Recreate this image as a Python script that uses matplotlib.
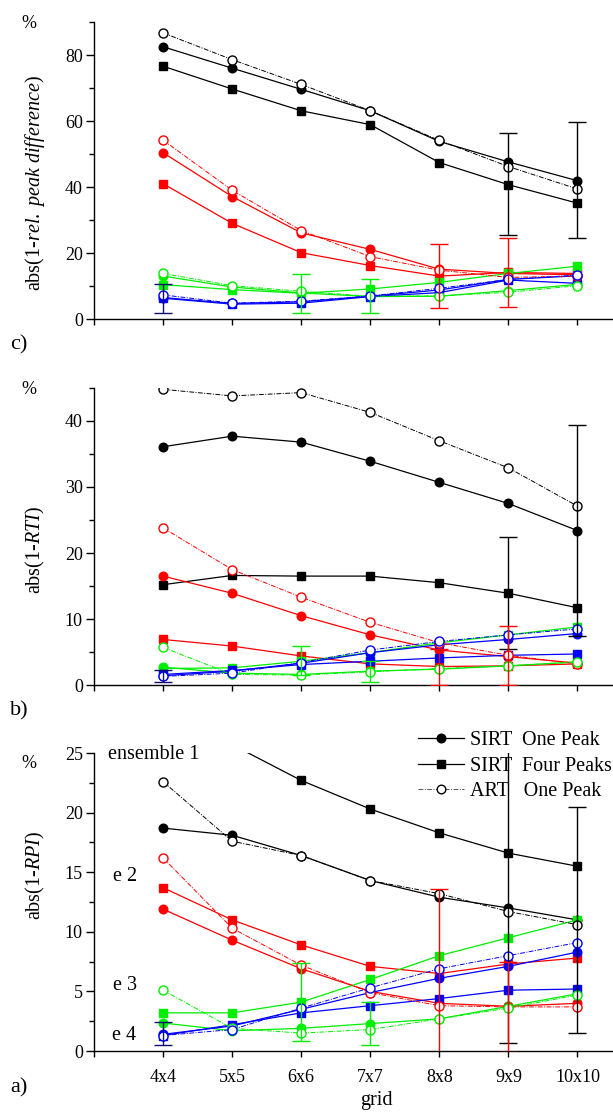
import matplotlib
matplotlib.use("Agg")
import matplotlib.pyplot as plt
from matplotlib.lines import Line2D
from matplotlib.ticker import MultipleLocator

plt.rcParams['font.family'] = ['Liberation Serif', 'DejaVu Serif']
plt.rcParams['mathtext.fontset'] = 'custom'
plt.rcParams['mathtext.rm'] = 'Liberation Serif'
plt.rcParams['mathtext.it'] = 'Liberation Serif:italic'

grid_labels = ['4x4', '5x5', '6x6', '7x7', '8x8', '9x9', '10x10']
ensembles = ['e1', 'e2', 'e3', 'e4']
ens_colors = {'e1': 'black', 'e2': '#ff0000', 'e3': '#00ee00', 'e4': '#0000ff'}

# ---- panel c: abs(1 - rel. peak difference) ----
c_sirt1 = {'e1': [82.5, 76.0, 69.6, 63.1, 53.8, 47.6, 41.9],
           'e2': [50.4, 37.1, 26.1, 21.1, 15.1, 13.8, 13.4],
           'e3': [13.0, 9.7, 7.9, 6.8, 6.9, 8.6, 10.5],
           'e4': [6.5, 4.7, 5.2, 6.9, 8.8, 12.0, 13.1]}
c_sirt4 = {'e1': [76.6, 69.7, 63.1, 58.9, 47.4, 40.7, 35.1],
           'e2': [41.0, 29.0, 20.1, 16.2, 13.0, 14.1, 13.8],
           'e3': [10.4, 8.9, 7.8, 9.1, 11.1, 13.8, 16.0],
           'e4': [6.3, 4.5, 4.8, 6.8, 8.0, 11.8, 10.8]}
c_art1 = {'e1': [86.7, 78.6, 71.1, 63.1, 54.1, 46.2, 39.4],
          'e2': [54.2, 39.0, 26.8, 18.9, 14.8, 12.6, 13.0],
          'e3': [13.8, 10.1, 8.4, 6.9, 7.0, 8.1, 10.1],
          'e4': [7.3, 4.8, 5.4, 7.0, 9.3, 12.0, 13.3]}
c_err_x = {'e1': [5, 6], 'e2': [4, 5], 'e3': [2, 3], 'e4': [0]}
c_err_y = {'e1': [40.9, 42.2], 'e2': [13.0, 14.1], 'e3': [7.65, 7.0], 'e4': [6.15]}
c_err_d = {'e1': [15.4, 17.6], 'e2': [9.8, 10.4], 'e3': [5.95, 5.2], 'e4': [4.45]}

# ---- panel b: abs(1 - RTI) ----
b_sirt1 = {'e1': [36.1, 37.7, 36.8, 33.9, 30.7, 27.5, 23.4],
           'e2': [16.5, 13.9, 10.5, 7.6, 5.3, 4.3, 3.3],
           'e3': [2.7, 1.8, 1.6, 2.1, 2.4, 2.9, 3.5],
           'e4': [1.4, 2.1, 3.3, 4.9, 6.1, 6.9, 7.8]}
b_sirt4 = {'e1': [15.2, 16.6, 16.5, 16.5, 15.5, 13.9, 11.7],
           'e2': [6.9, 5.9, 4.4, 3.2, 2.8, 2.9, 3.2],
           'e3': [2.5, 2.6, 3.6, 4.9, 6.4, 7.6, 8.8],
           'e4': [1.6, 2.2, 3.1, 3.6, 4.1, 4.5, 4.7]}
b_art1 = {'e1': [44.8, 43.8, 44.3, 41.3, 37.0, 32.9, 27.1],
          'e2': [23.8, 17.5, 13.3, 9.5, 6.4, 4.5, 3.2],
          'e3': [5.7, 1.6, 1.5, 2.0, 2.5, 2.9, 3.5],
          'e4': [1.3, 1.8, 3.4, 5.3, 6.6, 7.6, 8.5]}
b_err_x = {'e1': [5, 6], 'e2': [4, 5], 'e3': [2, 3], 'e4': [0]}
b_err_y = {'e1': [13.95, 23.4], 'e2': [2.7, 4.5], 'e3': [3.7, 2.1], 'e4': [1.4]}
b_err_d = {'e1': [8.45, 16.0], 'e2': [2.7, 4.5], 'e3': [2.2, 1.6], 'e4': [0.9]}

# ---- panel a: abs(1 - RPI) ----
a_sirt1 = {'e1': [18.7, 18.1, 16.4, 14.3, 12.9, 12.0, 11.0],
           'e2': [11.9, 9.3, 6.9, 5.0, 4.0, 3.75, 4.0],
           'e3': [2.35, 1.7, 1.9, 2.3, 2.7, 3.75, 4.8],
           'e4': [1.4, 2.1, 3.5, 4.9, 6.1, 7.1, 8.3]}
a_sirt4 = {'e1': [28.0, 25.7, 22.7, 20.3, 18.3, 16.6, 15.5],
           'e2': [13.7, 11.0, 8.9, 7.1, 6.5, 7.3, 7.8],
           'e3': [3.2, 3.2, 4.1, 6.0, 8.0, 9.5, 11.0],
           'e4': [1.3, 2.2, 3.2, 3.8, 4.4, 5.1, 5.2]}
a_art1 = {'e1': [22.6, 17.6, 16.4, 14.3, 13.2, 11.7, 10.6],
          'e2': [16.2, 10.3, 7.2, 4.9, 3.8, 3.7, 3.7],
          'e3': [5.1, 1.9, 1.5, 1.8, 2.7, 3.6, 4.7],
          'e4': [1.3, 1.8, 3.6, 5.3, 6.9, 8.0, 9.1]}
a_err_x = {'e1': [5, 6], 'e2': [4, 5], 'e3': [2, 3], 'e4': [0]}
a_err_y = {'e1': [16.6, 11.0], 'e2': [6.5, 3.7], 'e3': [4.1, 2.3], 'e4': [1.45]}
a_err_d = {'e1': [15.95, 9.5], 'e2': [7.1, 3.75], 'e3': [3.3, 1.8], 'e4': [0.95]}

ens_labels = ['ensemble 1', 'e 2', 'e 3', 'e 4']
ens_label_y = [24.9, 14.6, 5.5, 1.3]
legend_labels = ['SIRT  One Peak', 'SIRT  Four Peaks', 'ART   One Peak']

W, H = 613, 1115
fig = plt.figure(figsize=(W / 100, H / 100), dpi=100)

def frac_rect(left, top, right, bottom):
    return [left / W, 1 - bottom / H, (right - left) / W, (bottom - top) / H]

x = list(range(len(grid_labels)))
art_ls = (0, (5, 1.5, 1, 1.5))
err_colors = {'e1': 'black', 'e2': '#ff0000', 'e3': '#00ee00', 'e4': '#101070'}


def draw_panel(ax, sirt1, sirt4, art1, ex, ey, ed, ylim, major, minor, ylabel, ylab_y):
    for e in ensembles:
        col = ens_colors[e]
        ax.plot(x, sirt1[e], '-', color=col, lw=0.9, marker='o', ms=6.2,
                mfc=col, mec=col, zorder=3)
        ax.plot(x, sirt4[e], '-', color=col, lw=0.9, marker='s', ms=5.8,
                mfc=col, mec=col, zorder=3)
        ax.plot(x, art1[e], linestyle=art_ls, color=col, lw=0.7, marker='o', ms=6.5,
                mfc='white', mec=col, mew=1.0, zorder=4)
    for e in ensembles:
        ax.errorbar(ex[e], ey[e], yerr=ed[e], fmt='none', ecolor=err_colors[e],
                    elinewidth=1.0, capsize=6.5, capthick=1.0, zorder=5)
    ax.set_xlim(-1, 6.5)
    ax.set_ylim(*ylim)
    ax.yaxis.set_major_locator(MultipleLocator(major))
    ax.yaxis.set_minor_locator(MultipleLocator(minor))
    ax.set_xticks(x)
    ax.set_xticks([-1], minor=True)
    for s in ['top', 'right']:
        ax.spines[s].set_visible(False)
    for s in ['left', 'bottom']:
        ax.spines[s].set_linewidth(1.0)
    ax.tick_params(axis='y', which='major', direction='out', length=6, width=1.0,
                   labelsize=13, pad=2)
    ax.tick_params(axis='y', which='minor', direction='out', length=3.5, width=1.0)
    ax.tick_params(axis='x', which='both', direction='out', length=4, width=1.0,
                   labelsize=13, pad=9)
    ax.set_ylabel(ylabel, fontsize=14.5)
    ax.yaxis.set_label_coords(-0.09, ylab_y)


ax_c = fig.add_axes(frac_rect(94, 22, 612, 319))
draw_panel(ax_c, c_sirt1, c_sirt4, c_art1, c_err_x, c_err_y, c_err_d,
           (0, 90), 20, 10, r'abs(1-$\mathit{rel.\ peak\ difference}$)', 0.46)
ax_c.set_xticklabels([])

ax_b = fig.add_axes(frac_rect(94, 388, 612, 685))
draw_panel(ax_b, b_sirt1, b_sirt4, b_art1, b_err_x, b_err_y, b_err_d,
           (0, 45), 10, 5, r'abs(1-$\mathit{RTI}$)', 0.455)
ax_b.set_xticklabels([])

ax_a = fig.add_axes(frac_rect(94, 753, 612, 1051))
draw_panel(ax_a, a_sirt1, a_sirt4, a_art1, a_err_x, a_err_y, a_err_d,
           (0, 25), 5, 2.5, r'abs(1-$\mathit{RPI}$)', 0.59)
ax_a.set_xticklabels(grid_labels)
ax_a.set_xlabel('grid', fontsize=14.5)
ax_a.xaxis.set_label_coords(0.545, -0.135)

for lab, yv, xv in zip(ens_labels, ens_label_y, [-0.80, -0.72, -0.72, -0.74]):
    ax_a.text(xv, yv, lab, fontsize=14.5, ha='left', va='center', zorder=6)

# percent signs and panel letters
for ytop in [23, 390, 763]:
    fig.text(29 / W, 1 - ytop / H, '%', fontsize=13, ha='center', va='center')
fig.text(10 / W, 1 - 345 / H, 'c)', fontsize=16, ha='left', va='center')
fig.text(10 / W, 1 - 711 / H, 'b)', fontsize=16, ha='left', va='center')
fig.text(10 / W, 1 - 1088 / H, 'a)', fontsize=16, ha='left', va='center')

handles = [
    Line2D([], [], color='black', lw=0.9, marker='o', ms=6.2, mfc='black'),
    Line2D([], [], color='black', lw=0.9, marker='s', ms=5.8, mfc='black'),
    Line2D([], [], color='#555555', lw=0.7, linestyle=art_ls, marker='o', ms=6.2,
           mfc='white', mec='black'),
]
leg = fig.legend(handles, legend_labels, loc='upper left', bbox_to_anchor=(418 / W, 1 - 731 / H),
                 frameon=False, fontsize=14.5, handlelength=2.3, handletextpad=0.3,
                 labelspacing=0.32, borderpad=0, borderaxespad=0)
leg.set_zorder(1)

fig.savefig('out.png', dpi=100)
